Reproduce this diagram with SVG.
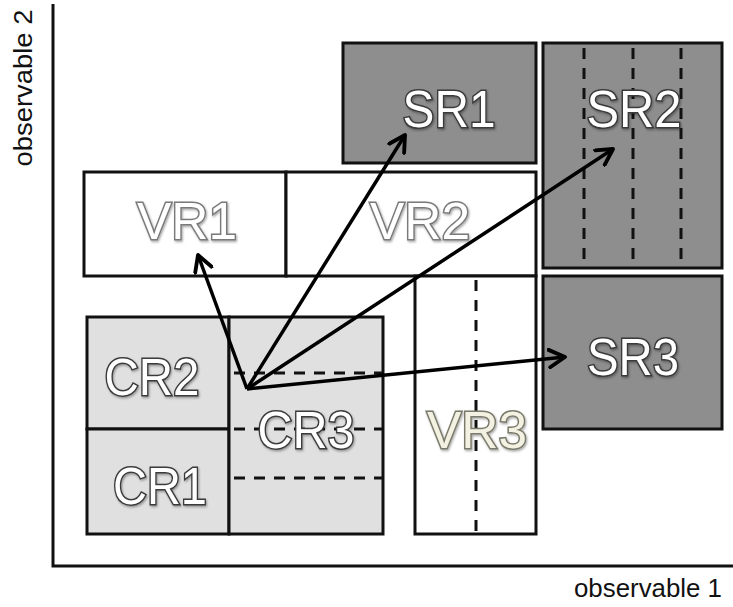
<svg xmlns="http://www.w3.org/2000/svg" width="733" height="607" viewBox="0 0 733 607">
<style>
.box{stroke:#111;stroke-width:3}
.sr{fill:#8e8e8e}
.vr{fill:#ffffff}
.cr{fill:#e0e0e0}
.dash{stroke:#111;stroke-width:3;stroke-dasharray:11,9;fill:none}
.lbl{font-family:"Liberation Sans",Arial,sans-serif;font-size:52px;text-anchor:middle;stroke-width:3;paint-order:stroke;filter:url(#sh)}
.white{fill:#ffffff;stroke:#3a3a3a}
.vlbl{fill:#ffffff;stroke:#7a7a7a}
.cream{fill:#f3f1e2;stroke:#7a7a6a}
.axis{stroke:#111;stroke-width:3;fill:none}
.ax{font-family:"Liberation Sans",Arial,sans-serif;font-size:26px;fill:#111}
.arrow{stroke:#000;stroke-width:3.5;fill:none;marker-end:url(#ah)}
</style>
<defs>
<filter id="sh" x="-10%" y="-10%" width="130%" height="130%">
<feDropShadow dx="1" dy="1.5" stdDeviation="1.2" flood-color="#000" flood-opacity="0.35"/>
</filter>
<marker id="ah" viewBox="0 0 12 12" refX="10" refY="6" markerWidth="6" markerHeight="6" orient="auto" markerUnits="strokeWidth">
<path d="M1,1 L10,6 L1,11" fill="none" stroke="#000" stroke-width="2.2" stroke-linecap="round" stroke-linejoin="round"/>
</marker>
</defs>
<rect width="733" height="607" fill="#ffffff"/>
<g id="axes">
<path class="axis" d="M53,4 L53,566 L733,566"/>
<text class="ax" x="574" y="597" textLength="148" lengthAdjust="spacingAndGlyphs">observable 1</text>
<text class="ax" transform="translate(32,88) rotate(-90)" text-anchor="middle" textLength="157" lengthAdjust="spacingAndGlyphs">observable 2</text>
</g>
<g id="SR1">
<rect class="box sr" x="343" y="43" width="193" height="120"/>
<text class="lbl white" x="449" y="127" textLength="93" lengthAdjust="spacingAndGlyphs">SR1</text>
</g>
<g id="SR2">
<rect class="box sr" x="543" y="43" width="179" height="225"/>
<path class="dash" d="M584,48 V264 M633,48 V264 M681,48 V264"/>
<text class="lbl white" x="634" y="127" textLength="95" lengthAdjust="spacingAndGlyphs">SR2</text>
</g>
<g id="SR3">
<rect class="box sr" x="543" y="276" width="179" height="153"/>
<text class="lbl white" x="633" y="375" textLength="92" lengthAdjust="spacingAndGlyphs">SR3</text>
</g>
<g id="VR1">
<rect class="box vr" x="84" y="172" width="202" height="104"/>
<text class="lbl vlbl" x="187" y="239" textLength="100" lengthAdjust="spacingAndGlyphs">VR1</text>
</g>
<g id="VR2">
<rect class="box vr" x="286" y="172" width="250" height="104"/>
<text class="lbl vlbl" x="420" y="239" textLength="100" lengthAdjust="spacingAndGlyphs">VR2</text>
</g>
<g id="VR3">
<rect class="box vr" x="415" y="276" width="121" height="258"/>
<path class="dash" d="M476,280 V534"/>
<text class="lbl cream" x="477" y="448" textLength="100" lengthAdjust="spacingAndGlyphs">VR3</text>
</g>
<g id="CR2">
<rect class="box cr" x="87" y="317" width="142" height="112"/>
<text class="lbl white" x="152" y="395" textLength="95" lengthAdjust="spacingAndGlyphs">CR2</text>
</g>
<g id="CR1">
<rect class="box cr" x="87" y="429" width="142" height="105"/>
<text class="lbl white" x="160" y="504" textLength="94" lengthAdjust="spacingAndGlyphs">CR1</text>
</g>
<g id="CR3">
<rect class="box cr" x="229" y="317" width="154" height="217"/>
<path class="dash" d="M234,373 H383 M234,429 H383 M234,478 H383"/>
<text class="lbl white" x="306" y="448" textLength="97" lengthAdjust="spacingAndGlyphs">CR3</text>
</g>
<g id="connectors">
<line class="arrow" x1="247" y1="389" x2="198" y2="255"/>
<line class="arrow" x1="247" y1="389" x2="405" y2="135"/>
<line class="arrow" x1="247" y1="389" x2="613" y2="149"/>
<line class="arrow" x1="247" y1="389" x2="565" y2="357"/>
</g>
</svg>
